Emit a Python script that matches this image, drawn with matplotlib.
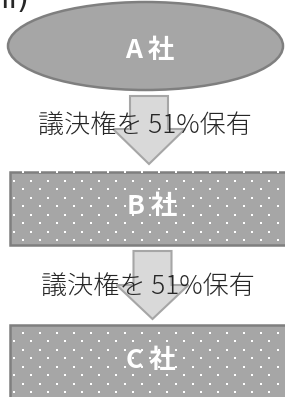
import numpy as np
import matplotlib
matplotlib.use("Agg")
import matplotlib.pyplot as plt
from matplotlib.patches import Ellipse, Rectangle, Polygon

plt.rcParams['font.family'] = ['Noto Sans CJK JP', 'DejaVu Sans']

# ---- content ----
companies = ["A 社", "B 社", "C 社"]
relation_label = "議決権を 51%保有"
corner_text = "ii)"

W, H = 285, 397
fig = plt.figure(figsize=(W / 100, H / 100), dpi=100)
ax = fig.add_axes([0, 0, 1, 1])
ax.set_xlim(0, W)
ax.set_ylim(H, 0)
ax.axis("off")

FILL = "#a6a6a6"
EDGE = "#7f7f7f"
ARROW_FILL = "#d9d9d9"
ARROW_EDGE = "#a6a6a6"
TEXT = "#262626"

# corner fragment (cut off at top, as in the reference)
ax.text(0, 8, corner_text, fontsize=22, color=TEXT, ha="left", va="baseline",
        family=['DejaVu Sans'])

# ---- A: ellipse ----
ax.add_patch(Ellipse((145.5, 46), 275, 88, facecolor=FILL, edgecolor=EDGE, lw=1.8, zorder=2))
ax.text(150, 51, companies[0], fontsize=19, color="white", fontweight="bold",
        ha="center", va="center", zorder=5)


def dotted_box(x0, y0, x1, y1, first_row_y, first_row_offset):
    ax.add_patch(Rectangle((x0, y0), x1 - x0, y1 - y0, facecolor=FILL,
                           edgecolor=EDGE, lw=1.8, zorder=2))
    ys = np.arange(first_row_y, y1 - 1, 8.5)
    xs_all, ys_all = [], []
    for i, yy in enumerate(ys):
        start = 14 if (i + first_row_offset) % 2 == 0 else 22.5
        xx = np.arange(start, W + 5, 17)
        xs_all.extend(xx)
        ys_all.extend([yy] * len(xx))
    ax.scatter(xs_all, ys_all, s=2.6, marker="s", color="white", linewidths=0, zorder=3)


def arrow(cx, top, head_y, tip_y, shaft_hw=19, head_hw=36):
    pts = [(cx - shaft_hw, top), (cx + shaft_hw, top), (cx + shaft_hw, head_y),
           (cx + head_hw, head_y), (cx, tip_y), (cx - head_hw, head_y),
           (cx - shaft_hw, head_y)]
    ax.add_patch(Polygon(pts, closed=True, facecolor=ARROW_FILL, edgecolor=ARROW_EDGE,
                         lw=1.5, joinstyle="miter", zorder=2))


# ---- arrow 1 + label ----
arrow(149, 96, 129, 164)
ax.text(145, 126, relation_label, fontsize=18.8, color=TEXT, fontweight="light",
        ha="center", va="center", zorder=5)

# ---- B box ----
dotted_box(10, 171.5, 300, 244.5, 172.3, 1)
ax.text(152, 207, companies[1], fontsize=19, color="white", fontweight="bold",
        ha="center", va="center", zorder=5)

# ---- arrow 2 + label ----
arrow(152.5, 251, 285, 319)
ax.text(148, 287, relation_label, fontsize=18.8, color=TEXT, fontweight="light",
        ha="center", va="center", zorder=5)

# ---- C box ----
dotted_box(10, 324.5, 300, 398, 332.7, 1)
ax.text(151, 361, companies[2], fontsize=19, color="white", fontweight="bold",
        ha="center", va="center", zorder=5)

fig.savefig("out.png", dpi=100, facecolor="white")
